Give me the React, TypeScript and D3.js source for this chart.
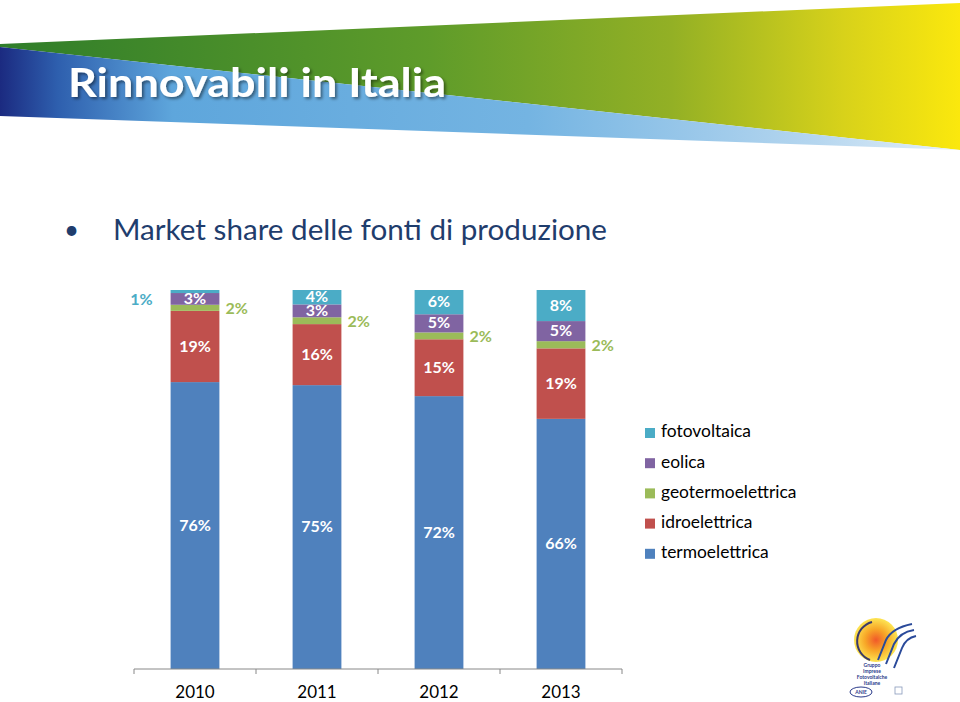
import React from "react";
import * as d3 from "d3";

const years = ["2010", "2011", "2012", "2013"];
const seriesKeys = ["termoelettrica", "idroelettrica", "geotermoelettrica", "eolica", "fotovoltaica"];
const termoelettrica = [75.7, 74.9, 72.0, 66.0];
const idroelettrica = [18.8, 16.1, 15.0, 18.6];
const geotermoelettrica = [1.6, 1.8, 1.8, 1.9];
const eolica = [3.1, 3.4, 4.8, 5.3];
const fotovoltaica = [0.8, 3.8, 6.4, 8.2];
const colors = ["#4F81BD", "#C0504D", "#9BBB59", "#8064A2", "#4BACC6"];
const title = "Rinnovabili in Italia";
const subtitle = "Market share delle fonti di produzione";

const W = 960;
const H = 702;

export default function App() {
  const values: Record<string, number[]> = {
    termoelettrica,
    idroelettrica,
    geotermoelettrica,
    eolica,
    fotovoltaica,
  };
  const rows = years.map((y, i) => {
    const r: any = { year: y };
    seriesKeys.forEach((k) => (r[k] = values[k][i]));
    return r;
  });
  const stack = d3.stack<any>().keys(seriesKeys)(rows);

  const x = d3.scaleBand<string>().domain(years).range([134, 622]).paddingInner(0.6).paddingOuter(0.3);
  const y = d3.scaleLinear().domain([0, 100]).range([669, 290]);
  const step = x.step();
  const axisY = y(0);

  const font = "Lato, 'Open Sans', sans-serif";

  return (
    <svg
      width={W}
      height={H}
      viewBox={`0 0 ${W} ${H}`}
      style={{ position: "absolute", left: 0, top: 0, background: "#fff" }}
    >
      <defs>
        <linearGradient id="gGreen" x1="0" x2="1" y1="0" y2="0">
          <stop offset="0" stopColor="#2f7d2a" />
          <stop offset="0.45" stopColor="#5f9c2a" />
          <stop offset="0.7" stopColor="#93b025" />
          <stop offset="0.88" stopColor="#d8d21a" />
          <stop offset="1" stopColor="#fbe80d" />
        </linearGradient>
        <linearGradient id="gBlue" x1="0" x2="1" y1="0" y2="0">
          <stop offset="0" stopColor="#1b2a80" />
          <stop offset="0.06" stopColor="#2e5fae" />
          <stop offset="0.18" stopColor="#5ea6dc" />
          <stop offset="0.55" stopColor="#74b4e2" />
          <stop offset="0.85" stopColor="#b5d6ef" />
          <stop offset="1" stopColor="#e6f1fa" />
        </linearGradient>
        <radialGradient id="gSun" cx="0.5" cy="0.5" r="0.5">
          <stop offset="0" stopColor="#f0501e" />
          <stop offset="0.5" stopColor="#f7a21c" />
          <stop offset="1" stopColor="#fde44a" />
        </radialGradient>
        <filter id="shadow" x="-5%" y="-20%" width="110%" height="140%">
          <feDropShadow dx="2" dy="2" stdDeviation="1.5" floodColor="#000" floodOpacity="0.45" />
        </filter>
      </defs>

      {/* banner */}
      <polygon points="0,44 960,3 960,150 0,47" fill="url(#gGreen)" />
      <polygon points="0,47 960,150 0,116" fill="url(#gBlue)" />
      <text
        x={68}
        y={97}
        fontFamily={font}
        fontWeight={700}
        fontSize={41}
        fill="#fff"
        textLength={378}
        lengthAdjust="spacingAndGlyphs"
        filter="url(#shadow)"
      >
        {title}
      </text>

      {/* subtitle */}
      <text x={64} y={239} fontFamily={font} fontSize={26} fill="#1F3D6D">
        •
      </text>
      <text
        x={113}
        y={240}
        fontFamily={font}
        fontSize={28}
        fill="#1F3D6D"
        textLength={494}
        lengthAdjust="spacingAndGlyphs"
      >
        {subtitle}
      </text>

      {/* bars */}
      {stack.map((s, si) => (
        <g key={s.key}>
          {s.map((d, i) => (
            <rect
              key={i}
              x={x(years[i])}
              y={y(d[1])}
              width={x.bandwidth()}
              height={y(d[0]) - y(d[1])}
              fill={colors[si]}
            />
          ))}
        </g>
      ))}

      {/* labels */}
      {stack.map((s, si) =>
        s.map((d, i) => {
          const v = d[1] - d[0];
          const label = `${Math.round(v)}%`;
          const cx = (x(years[i]) as number) + x.bandwidth() / 2;
          const cy = (y(d[0]) + y(d[1])) / 2;
          const key = s.key;
          if (key === "geotermoelettrica") {
            return (
              <text
                key={`${si}-${i}`}
                x={(x(years[i]) as number) + x.bandwidth() + 6}
                y={cy + 2}
                dominantBaseline="middle"
                fontFamily={font}
                fontWeight={700}
                fontSize={16}
                fill={colors[si]}
              >
                {label}
              </text>
            );
          }
          if (key === "fotovoltaica" && v < 2) {
            return (
              <text
                key={`${si}-${i}`}
                x={(x(years[i]) as number) - 18}
                y={y(d[1]) + 11}
                dominantBaseline="middle"
                textAnchor="end"
                fontFamily={font}
                fontWeight={700}
                fontSize={16}
                fill={colors[si]}
              >
                {label}
              </text>
            );
          }
          return (
            <text
              key={`${si}-${i}`}
              x={cx}
              y={cy + 1}
              dominantBaseline="middle"
              textAnchor="middle"
              fontFamily={font}
              fontWeight={700}
              fontSize={16}
              fill="#fff"
            >
              {label}
            </text>
          );
        })
      )}

      {/* axis */}
      <line x1={134} x2={622} y1={axisY} y2={axisY} stroke="#888" strokeWidth={1} />
      {d3.range(years.length + 1).map((i) => (
        <line
          key={i}
          x1={134 + i * step}
          x2={134 + i * step}
          y1={axisY}
          y2={axisY + 5}
          stroke="#888"
          strokeWidth={1}
        />
      ))}
      {years.map((yr) => (
        <text
          key={yr}
          x={(x(yr) as number) + x.bandwidth() / 2}
          y={698}
          textAnchor="middle"
          fontFamily={font}
          fontSize={17}
          fill="#000"
        >
          {yr}
        </text>
      ))}

      {/* legend */}
      {seriesKeys
        .slice()
        .reverse()
        .map((k, i) => {
          const ci = seriesKeys.indexOf(k);
          const ly = 433 + i * 30.2;
          return (
            <g key={k}>
              <rect x={645} y={ly - 5} width={10} height={10} fill={colors[ci]} />
              <text x={661} y={ly} dominantBaseline="middle" fontFamily={font} fontSize={17.4} fill="#000">
                {k}
              </text>
            </g>
          );
        })}

      {/* logo */}
      <g>
        <circle cx={876} cy={640} r={22} fill="url(#gSun)" opacity={0.95} />
        <path d="M872,622 A20,20 0 0 0 870,660" fill="none" stroke="#3a3a6a" strokeWidth={2} />
        <path d="M878,660 L886,640 Q892,628 912,624" fill="none" stroke="#2a4a9a" strokeWidth={2} />
        <path d="M886,664 L894,644 Q900,632 914,630" fill="none" stroke="#2a4a9a" strokeWidth={2} />
        <path d="M894,668 L902,648 Q906,638 916,636" fill="none" stroke="#2a4a9a" strokeWidth={2} />
        <text x={872} y={667} textAnchor="middle" fontFamily={font} fontSize={5} fontWeight={700} fill="#2a3a8a">
          Gruppo
        </text>
        <text x={872} y={673} textAnchor="middle" fontFamily={font} fontSize={5} fontWeight={700} fill="#2a3a8a">
          Imprese
        </text>
        <text x={872} y={679} textAnchor="middle" fontFamily={font} fontSize={5} fontWeight={700} fill="#2a3a8a">
          Fotovoltaiche
        </text>
        <text x={872} y={685} textAnchor="middle" fontFamily={font} fontSize={5} fontWeight={700} fill="#2a3a8a">
          Italiane
        </text>
        <ellipse cx={861} cy={692} rx={11} ry={5} fill="#fff" stroke="#2a3a8a" strokeWidth={1} />
        <text x={861} y={694} textAnchor="middle" fontFamily={font} fontSize={5} fontWeight={700} fill="#2a3a8a">
          ANIE
        </text>
        <rect x={895} y={687} width={7} height={7} fill="none" stroke="#8899bb" strokeWidth={0.8} />
      </g>
    </svg>
  );
}
